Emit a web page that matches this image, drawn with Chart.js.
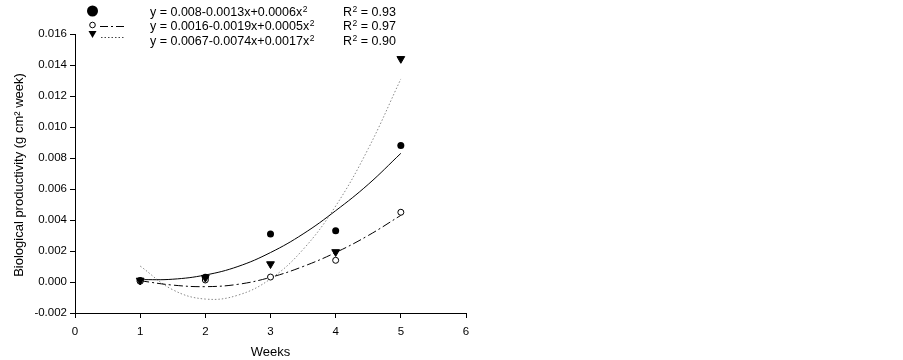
<!DOCTYPE html>
<html>
<head>
<meta charset="utf-8">
<script src="https://cdn.jsdelivr.net/npm/chart.js@4"></script>
<style>
  html, body { margin: 0; padding: 0; background: #fff; }
  #wrap { width: 903px; height: 360px; position: relative; }
</style>
</head>
<body>
<div id="wrap"><canvas id="chart"></canvas></div>
<script>
// measured weeks and productivity values
const weeks = [1, 2, 3, 4, 5];
const filledValues = [0.0001, 0.0003, 0.0031, 0.0033, 0.0088];
const openValues = [0.00005, 0.00013, 0.00032, 0.0014, 0.0045];
const triangleValues = [0.0001, 0.00028, 0.00116, 0.00194, 0.0144];

// fitted curves
const fitWeeks = [1, 1.5, 2, 2.5, 3, 3.5, 4, 4.5, 5];
const solidFit = [0.00015, 0.00018, 0.00045, 0.001, 0.0019, 0.0031, 0.0046, 0.0063, 0.0083];
const dashFit = [0.00008, -0.0002, -0.0003, -0.00015, 0.0003, 0.001, 0.0019, 0.003, 0.0043];
const dottedFit = [0.00103, -0.0005, -0.0011, -0.00085, 0.0002, 0.0021, 0.0049, 0.0086, 0.0131];

// legend text, [base, superscript, rest]
const equations = [
  ["y = 0.008-0.0013x+0.0006x", "2", ""],
  ["y = 0.0016-0.0019x+0.0005x", "2", ""],
  ["y = 0.0067-0.0074x+0.0017x", "2", ""]
];
const rSquared = ["0.93", "0.97", "0.90"];

const xTicks = [0, 1, 2, 3, 4, 5, 6];
const yTicks = [-0.002, 0, 0.002, 0.004, 0.006, 0.008, 0.01, 0.012, 0.014, 0.016];

const FONT = "'Liberation Sans', Arial, sans-serif";

const toPoints = (xs, ys) => xs.map((x, i) => ({ x: x, y: ys[i] }));

function drawSup(ctx, x, y, base, sup, rest) {
  ctx.font = "12.5px " + FONT;
  ctx.fillText(base, x, y);
  x += ctx.measureText(base).width;
  ctx.font = "8.5px " + FONT;
  ctx.fillText(sup, x + 0.5, y - 4);
  x += ctx.measureText(sup).width + 0.5;
  ctx.font = "12.5px " + FONT;
  ctx.fillText(rest, x, y);
}

const legendPlugin = {
  id: "eqLegend",
  afterDraw(chart) {
    const ctx = chart.ctx;
    ctx.save();
    // symbols
    ctx.fillStyle = "#000";
    ctx.beginPath();
    ctx.arc(92.5, 11, 5.5, 0, Math.PI * 2);
    ctx.fill();

    ctx.strokeStyle = "#000";
    ctx.lineWidth = 1;
    ctx.beginPath();
    ctx.arc(92.5, 25, 2.8, 0, Math.PI * 2);
    ctx.stroke();

    ctx.beginPath();
    ctx.moveTo(88.5, 31);
    ctx.lineTo(96.5, 31);
    ctx.lineTo(92.5, 38);
    ctx.closePath();
    ctx.fill();

    ctx.beginPath();
    ctx.setLineDash([8, 3, 2, 3]);
    ctx.moveTo(100, 26.5);
    ctx.lineTo(124, 26.5);
    ctx.stroke();

    ctx.beginPath();
    ctx.strokeStyle = "#444";
    ctx.setLineDash([1.5, 2]);
    ctx.moveTo(101, 37.5);
    ctx.lineTo(124, 37.5);
    ctx.stroke();
    ctx.setLineDash([]);

    // equations and R²
    ctx.fillStyle = "#000";
    ctx.textBaseline = "alphabetic";
    ctx.textAlign = "left";
    equations.forEach((eq, i) => {
      const y = 16 + i * 14.3;
      drawSup(ctx, 150, y, eq[0], eq[1], eq[2]);
      drawSup(ctx, 343, y, "R", "2", " = " + rSquared[i]);
    });

    // y axis title
    ctx.save();
    ctx.translate(19, 175);
    ctx.rotate(-Math.PI / 2);
    ctx.textAlign = "center";
    ctx.textBaseline = "middle";
    ctx.font = "13px " + FONT;
    ctx.fillText("Biological productivity (g cm² week)", 0, 0);
    ctx.restore();

    ctx.restore();
  }
};

new Chart(document.getElementById("chart"), {
  type: "scatter",
  data: {
    datasets: [
      {
        label: "triangles",
        data: toPoints(weeks, triangleValues),
        pointStyle: "triangle",
        rotation: 180,
        pointRadius: 4.5,
        backgroundColor: "#000",
        borderColor: "#000",
        borderWidth: 1
      },
      {
        label: "open",
        data: toPoints(weeks, openValues),
        pointStyle: "circle",
        pointRadius: 3,
        backgroundColor: "#fff",
        borderColor: "#000",
        borderWidth: 1
      },
      {
        label: "filled",
        data: toPoints(weeks, filledValues),
        pointStyle: "circle",
        pointRadius: 3.5,
        backgroundColor: "#000",
        borderColor: "#000",
        borderWidth: 0
      },
      {
        type: "line",
        label: "solid fit",
        data: toPoints(fitWeeks, solidFit),
        borderColor: "#000",
        borderWidth: 1,
        pointRadius: 0,
        tension: 0.4,
        fill: false
      },
      {
        type: "line",
        label: "dash fit",
        data: toPoints(fitWeeks, dashFit),
        borderColor: "#000",
        borderWidth: 1,
        borderDash: [9, 3, 2, 3],
        pointRadius: 0,
        tension: 0.4,
        fill: false
      },
      {
        type: "line",
        label: "dotted fit",
        data: toPoints(fitWeeks, dottedFit),
        borderColor: "#888",
        borderWidth: 1,
        borderDash: [1.5, 2],
        pointRadius: 0,
        tension: 0.4,
        fill: false
      }
    ]
  },
  options: {
    responsive: true,
    maintainAspectRatio: false,
    animation: false,
    layout: { padding: { top: 34, right: 437, left: 0, bottom: 0 } },
    plugins: {
      legend: { display: false },
      tooltip: { enabled: false }
    },
    scales: {
      x: {
        type: "linear",
        min: 0,
        max: 6,
        afterBuildTicks: scale => { scale.ticks = xTicks.map(v => ({ value: v })); },
        afterFit: scale => { scale.height = 47; },
        border: { display: true, color: "#000", width: 1 },
        grid: { display: true, drawOnChartArea: false, drawTicks: true, tickLength: 5, color: "#000" },
        ticks: { color: "#000", font: { family: FONT, size: 11.5 }, padding: 7, maxRotation: 0 },
        title: { display: true, text: "Weeks", color: "#000", font: { family: FONT, size: 13 }, padding: { top: 0, bottom: 0 } }
      },
      y: {
        min: -0.002,
        max: 0.016,
        afterBuildTicks: scale => { scale.ticks = yTicks.map(v => ({ value: v })); },
        afterFit: scale => { scale.width = 75; },
        border: { display: true, color: "#000", width: 1 },
        grid: { display: true, drawOnChartArea: false, drawTicks: true, tickLength: 5, color: "#000" },
        ticks: {
          color: "#000",
          font: { family: FONT, size: 11.5 },
          padding: 3,
          callback: v => v.toFixed(3)
        },
        title: { display: false }
      }
    }
  },
  plugins: [legendPlugin]
});
</script>
</body>
</html>
